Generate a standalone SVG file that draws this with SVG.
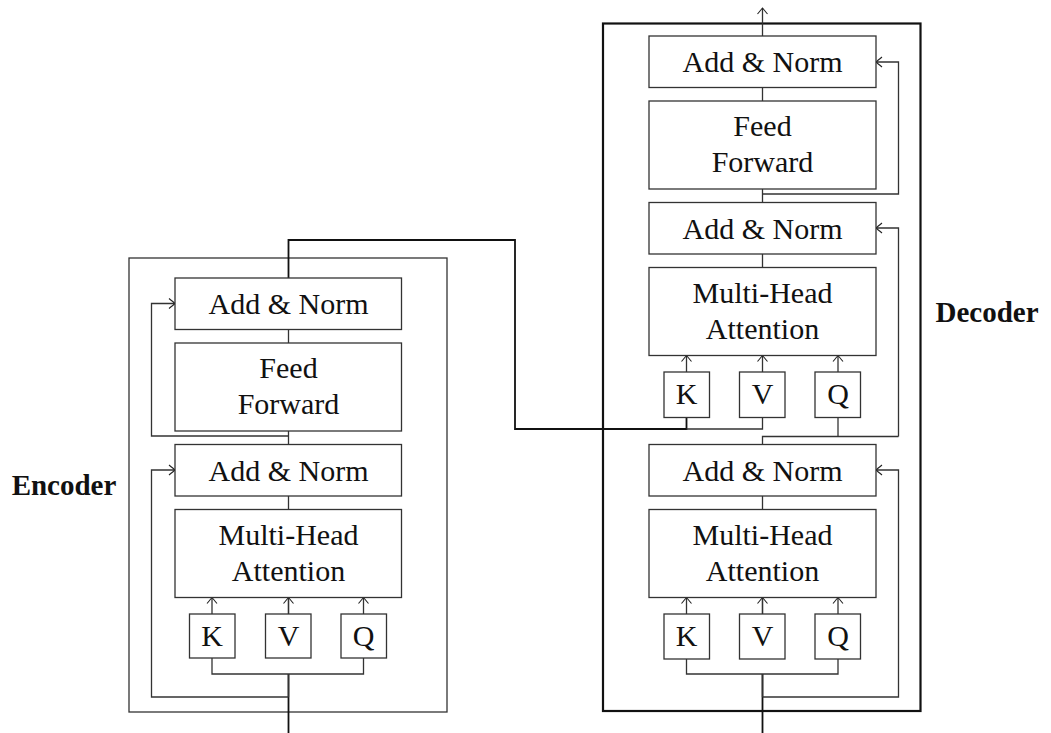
<svg xmlns="http://www.w3.org/2000/svg" width="1051" height="733" viewBox="0 0 1051 733">
  <style>
    .blk { fill: #ffffff; stroke: #333333; stroke-width: 1.3; }
    .frame { fill: none; stroke: #333333; stroke-width: 1.3; }
    .frame-b { fill: none; stroke: #111111; stroke-width: 2.2; }
    .wire { fill: none; stroke: #333333; stroke-width: 1.3; }
    .wire-b { fill: none; stroke: #111111; stroke-width: 1.8; }
    .arr { marker-end: url(#tip); }
    text { font-family: "Liberation Serif", "DejaVu Serif", serif; font-size: 30px; fill: #111111; text-anchor: middle; }
    .lbl { font-weight: bold; font-size: 29px; }
  </style>
  <defs>
    <marker id="tip" viewBox="-8 -6 10 12" markerWidth="10" markerHeight="12" refX="0" refY="0" orient="auto" markerUnits="userSpaceOnUse">
      <path d="M-6,-5 Q-1.5,-1.3 0,0 Q-1.5,1.3 -6,5" fill="none" stroke="#222222" stroke-width="1.1"/>
    </marker>
  </defs>

  <rect width="1051" height="733" fill="#ffffff"/>

  <!-- outer frames -->
  <rect class="frame" x="129" y="258" width="318" height="454"/>
  <rect class="frame-b" x="603" y="23.5" width="317.5" height="687.5"/>

  <!-- connectors -->
  <g id="connectors">
    <!-- encoder -->
    <path class="wire-b" d="M288.5,733 V674"/>
    <path class="wire" d="M212,658 V674 H363.5 V658"/>
    <path class="wire arr" d="M288.5,697 H151.5 V470 H175"/>
    <path class="wire" d="M288.5,674 V697"/>
    <path class="wire" d="M288.5,597 V614 M288.5,496 V509.5 M288.5,431 V444.5 M288.5,329.5 V343"/>
    <path class="wire arr" d="M212,614 V597.5"/>
    <path class="wire arr" d="M288.5,614 V597.5"/>
    <path class="wire arr" d="M363.5,614 V597.5"/>
    <path class="wire arr" d="M288.5,436 H151.5 V303.5 H175"/>
    <!-- encoder output to decoder K, V -->
    <path class="wire-b" d="M288.5,278 V240 H515 V429 H686.5 V417.5"/>
    <path class="wire" d="M686.5,429 H762.5 V417.5"/>

    <!-- decoder lower -->
    <path class="wire-b" d="M762.5,733 V674"/>
    <path class="wire" d="M686.5,659 V674 H838 V659"/>
    <path class="wire arr" d="M762.5,697 H898.5 V470 H876"/>
    <path class="wire" d="M762.5,674 V697"/>
    <path class="wire" d="M762.5,597.5 V614 M762.5,496 V509.5"/>
    <path class="wire arr" d="M686.5,614 V597.5"/>
    <path class="wire arr" d="M762.5,614 V597.5"/>
    <path class="wire arr" d="M838,614 V597.5"/>
    <!-- decoder upper -->
    <path class="wire" d="M762.5,444 V436.5 H898.5"/>
    <path class="wire" d="M838,417.5 V436.5"/>
    <path class="wire arr" d="M898.5,436.5 V228 H876"/>
    <path class="wire arr" d="M686.5,372 V355.5"/>
    <path class="wire arr" d="M762.5,372 V355.5"/>
    <path class="wire arr" d="M838,372 V355.5"/>
    <path class="wire" d="M762.5,254 V267.5 M762.5,189 V202.5 M762.5,87.5 V101"/>
    <path class="wire arr" d="M762.5,194 H898.5 V62 H876"/>
    <path class="wire arr" d="M762.5,36 V8"/>
  </g>

  <!-- encoder blocks -->
  <g id="enc-addnorm-2">
    <rect class="blk" x="175" y="278" width="226.5" height="51.5"/>
    <text x="288.5" y="314">Add &amp; Norm</text>
  </g>
  <g id="enc-feedforward">
    <rect class="blk" x="175" y="343" width="226.5" height="88"/>
    <text x="288.5" y="378">Feed</text>
    <text x="288.5" y="414">Forward</text>
  </g>
  <g id="enc-addnorm-1">
    <rect class="blk" x="175" y="444.5" width="226.5" height="51.5"/>
    <text x="288.5" y="481">Add &amp; Norm</text>
  </g>
  <g id="enc-attention">
    <rect class="blk" x="175" y="509.5" width="226.5" height="88"/>
    <text x="288.5" y="545">Multi-Head</text>
    <text x="288.5" y="581">Attention</text>
  </g>
  <g id="enc-k">
    <rect class="blk" x="189.5" y="614" width="45.5" height="44"/>
    <text x="212" y="646">K</text>
  </g>
  <g id="enc-v">
    <rect class="blk" x="265.5" y="614" width="45.5" height="44"/>
    <text x="288.5" y="646">V</text>
  </g>
  <g id="enc-q">
    <rect class="blk" x="341" y="614" width="45.5" height="44"/>
    <text x="363.5" y="646">Q</text>
  </g>

  <!-- decoder blocks -->
  <g id="dec-addnorm-3">
    <rect class="blk" x="649" y="36" width="227" height="51.5"/>
    <text x="762.5" y="72">Add &amp; Norm</text>
  </g>
  <g id="dec-feedforward">
    <rect class="blk" x="649" y="101" width="227" height="88"/>
    <text x="762.5" y="136">Feed</text>
    <text x="762.5" y="172">Forward</text>
  </g>
  <g id="dec-addnorm-2">
    <rect class="blk" x="649" y="202.5" width="227" height="51.5"/>
    <text x="762.5" y="239">Add &amp; Norm</text>
  </g>
  <g id="dec-cross-attention">
    <rect class="blk" x="649" y="267.5" width="227" height="88"/>
    <text x="762.5" y="303">Multi-Head</text>
    <text x="762.5" y="339">Attention</text>
  </g>
  <g id="dec-cross-k">
    <rect class="blk" x="664" y="372" width="45.5" height="45.5"/>
    <text x="686.5" y="404">K</text>
  </g>
  <g id="dec-cross-v">
    <rect class="blk" x="739.5" y="372" width="45.5" height="45.5"/>
    <text x="762.5" y="404">V</text>
  </g>
  <g id="dec-cross-q">
    <rect class="blk" x="815" y="372" width="45.5" height="45.5"/>
    <text x="838" y="404">Q</text>
  </g>
  <g id="dec-addnorm-1">
    <rect class="blk" x="649" y="444.5" width="227" height="51.5"/>
    <text x="762.5" y="481">Add &amp; Norm</text>
  </g>
  <g id="dec-self-attention">
    <rect class="blk" x="649" y="509.5" width="227" height="88"/>
    <text x="762.5" y="545">Multi-Head</text>
    <text x="762.5" y="581">Attention</text>
  </g>
  <g id="dec-self-k">
    <rect class="blk" x="664" y="614" width="45.5" height="45"/>
    <text x="686.5" y="646">K</text>
  </g>
  <g id="dec-self-v">
    <rect class="blk" x="739.5" y="614" width="45.5" height="45"/>
    <text x="762.5" y="646">V</text>
  </g>
  <g id="dec-self-q">
    <rect class="blk" x="815" y="614" width="45.5" height="45"/>
    <text x="838" y="646">Q</text>
  </g>

  <!-- stack labels -->
  <g id="label-encoder">
    <text class="lbl" x="64" y="495">Encoder</text>
  </g>
  <g id="label-decoder">
    <text class="lbl" x="987" y="322">Decoder</text>
  </g>
</svg>
